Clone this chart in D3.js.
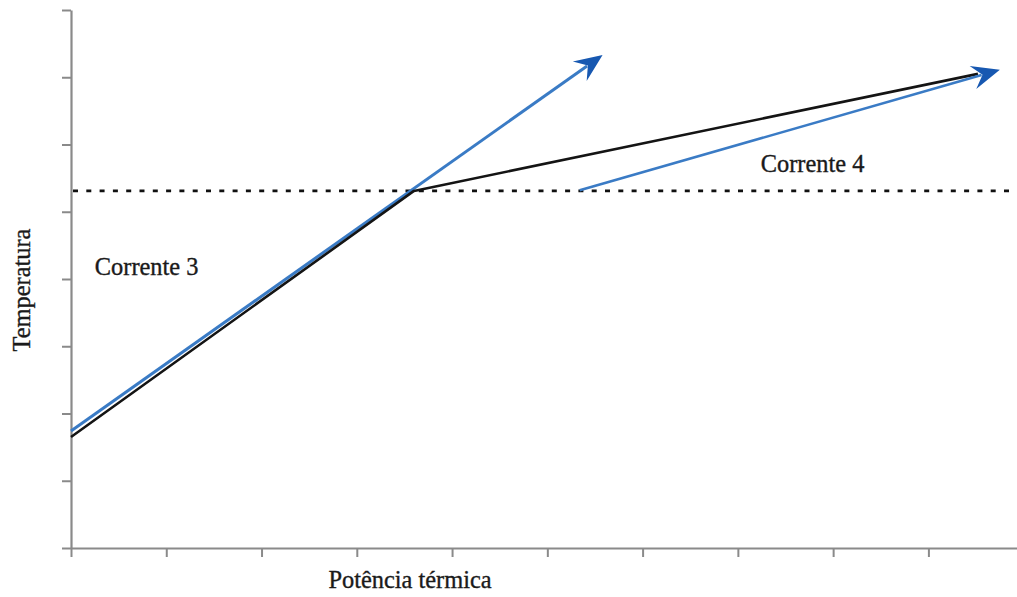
<!DOCTYPE html>
<html>
<head>
<meta charset="utf-8">
<script src="https://cdn.jsdelivr.net/npm/d3@7"></script>
<style>
  html, body { margin: 0; padding: 0; background: #fff; }
  svg { display: block; }
  text { font-family: "Liberation Serif", "DejaVu Serif", "Times New Roman", serif; fill: #1a1a1a; stroke: #1a1a1a; stroke-width: 0.35px; }
</style>
</head>
<body>
<svg id="chart" width="1017" height="597"></svg>
<script>
// ---- data (axis units) ----
const xTicks = [0, 1, 2, 3, 4, 5, 6, 7, 8, 9];
const yTicks = [0, 1, 2, 3, 4, 5, 6, 7, 8];
const blackX = [0, 3.60, 9.52];
const blackY = [1.65, 5.31, 7.05];
const corrente3X = [0, 5.58];
const corrente3Y = [1.74, 7.33];
const corrente4X = [5.34, 9.75];
const corrente4Y = [5.32, 7.11];
const pinchY = 5.31;
const labels = ["Corrente 3", "Corrente 4"];
const labelX = [0.25, 7.24];
const labelY = [4.06, 5.59];
const xTitle = "Potência térmica";
const yTitle = "Temperatura";

const svg = d3.select("#chart");
const x = d3.scaleLinear().domain([0, 9.93]).range([71, 1017]);
const y = d3.scaleLinear().domain([0, 8]).range([548, 10]);

const axisColor = "#8a8a8a";
const gx = svg.append("g").attr("transform", `translate(0,${y(0)})`)
  .call(d3.axisBottom(x).tickValues(xTicks).tickSize(9).tickSizeOuter(0).tickFormat(""));
const gy = svg.append("g").attr("transform", `translate(${x(0)},0)`)
  .call(d3.axisLeft(y).tickValues(yTicks).tickSize(9).tickSizeOuter(0).tickFormat(""));
[gx, gy].forEach(g => {
  g.select(".domain").attr("stroke", axisColor).attr("stroke-width", 2.2);
  g.selectAll(".tick line").attr("stroke", axisColor).attr("stroke-width", 2);
});

// dotted pinch line
svg.append("line")
  .attr("x1", x(0) + 2).attr("x2", 1017)
  .attr("y1", y(pinchY)).attr("y2", y(pinchY))
  .attr("stroke", "#111").attr("stroke-width", 2.6)
  .attr("stroke-dasharray", "5,8.3");

const line = d3.line().x(d => x(d[0])).y(d => y(d[1]));
const lineBlue = "#3a7bc5";
const headBlue = "#1758b1";

function arrow(xs, ys) {
  const n = xs.length;
  const tx = x(xs[n - 1]), ty = y(ys[n - 1]);
  const px = x(xs[n - 2]), py = y(ys[n - 2]);
  const ang = Math.atan2(ty - py, tx - px);
  const L = 28, W = 24, N = 18;
  const pts = [[0, 0], [-L, -W / 2], [-N, 0], [-L, W / 2]].map(([a, b]) => [
    tx + a * Math.cos(ang) - b * Math.sin(ang),
    ty + a * Math.sin(ang) + b * Math.cos(ang)
  ]);
  const endX = tx - (N + 1) * Math.cos(ang), endY = ty - (N + 1) * Math.sin(ang);
  return { pts, endX, endY };
}

// Corrente 3 (blue) drawn first, black on top
const a3 = arrow(corrente3X, corrente3Y);
svg.append("path")
  .attr("d", `M${x(corrente3X[0])},${y(corrente3Y[0])}L${a3.endX},${a3.endY}`)
  .attr("fill", "none").attr("stroke", lineBlue).attr("stroke-width", 3);
svg.append("polygon").attr("points", a3.pts.map(p => p.join(",")).join(" ")).attr("fill", headBlue);

// black composite line
svg.append("path")
  .datum(blackX.map((v, i) => [v, blackY[i]]))
  .attr("d", line)
  .attr("fill", "none").attr("stroke", "#141414").attr("stroke-width", 2.6)
  .attr("stroke-linejoin", "round");

// Corrente 4 (blue)
const a4 = arrow(corrente4X, corrente4Y);
svg.append("path")
  .attr("d", `M${x(corrente4X[0])},${y(corrente4Y[0])}L${a4.endX},${a4.endY}`)
  .attr("fill", "none").attr("stroke", lineBlue).attr("stroke-width", 2.6);
svg.append("polygon").attr("points", a4.pts.map(p => p.join(",")).join(" ")).attr("fill", headBlue);

// labels
svg.selectAll("text.lab").data(labels).enter().append("text")
  .attr("class", "lab")
  .attr("x", (d, i) => x(labelX[i])).attr("y", (d, i) => y(labelY[i]))
  .attr("font-size", 24.4).text(d => d);

svg.append("text").attr("x", 410).attr("y", 588).attr("text-anchor", "middle")
  .attr("font-size", 24.4).text(xTitle);
svg.append("text").attr("transform", "translate(30,290) rotate(-90)")
  .attr("text-anchor", "middle").attr("font-size", 24.4).text(yTitle);
</script>
</body>
</html>
